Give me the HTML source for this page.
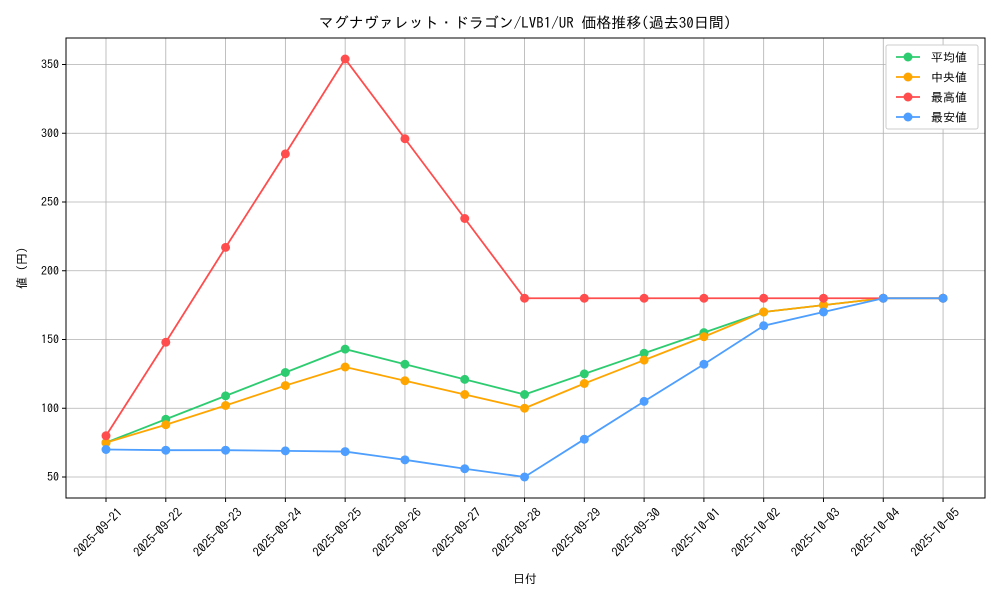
<!DOCTYPE html>
<html><head><meta charset="utf-8">
<style>
html,body{margin:0;padding:0;background:#fff;}
svg{display:block;font-family:"IPAGothic","Noto Sans CJK JP",monospace;}
</style></head>
<body>
<svg id="s" width="1000" height="600" xmlns="http://www.w3.org/2000/svg">
<rect width="1000" height="600" fill="#fff"/>
<g id="grid"></g>
<rect x="66" y="38" width="919" height="460" fill="none" stroke="#000" stroke-width="1"/>
<g id="ticks"></g>
<g id="series"></g>
<text x="525" y="28" font-size="15" text-anchor="middle">マグナヴァレット・ドラゴン/LVB1/UR 価格推移(過去30日間)</text>
<text x="525" y="583" font-size="12" text-anchor="middle">日付</text>
<text transform="translate(26,268) rotate(-90)" font-size="12" text-anchor="middle">値 (円)</text>
<g id="legend">
<rect x="886" y="45" width="92" height="84" fill="#fff" stroke="#ccc" rx="2"/>
</g>
</svg>
<script>
const NS="http://www.w3.org/2000/svg";
function el(p,t,a,txt){const e=document.createElementNS(NS,t);for(const k in a)e.setAttribute(k,a[k]);if(txt!==undefined)e.textContent=txt;document.getElementById(p).appendChild(e);return e;}
const X=i=>106+i*59.79, Y=v=>477-(v-50)*1.375;
const dates=["2025-09-21","2025-09-22","2025-09-23","2025-09-24","2025-09-25","2025-09-26","2025-09-27","2025-09-28","2025-09-29","2025-09-30","2025-10-01","2025-10-02","2025-10-03","2025-10-04","2025-10-05"];
dates.forEach((d,i)=>{const x=X(i);
el("grid","line",{x1:x,x2:x,y1:38,y2:498,stroke:"#b0b0b0","stroke-width":0.8});
el("ticks","line",{x1:x,x2:x,y1:498,y2:502,stroke:"#000"});
el("ticks","text",{transform:`translate(${x+11},${507}) rotate(-45)`,"font-size":12.5,"text-anchor":"end","dominant-baseline":"hanging"},d);
});
[50,100,150,200,250,300,350].forEach(v=>{const y=Y(v);
el("grid","line",{x1:66,x2:985,y1:y,y2:y,stroke:"#b0b0b0","stroke-width":0.8});
el("ticks","line",{x1:62,x2:66,y1:y,y2:y,stroke:"#000"});
el("ticks","text",{x:59,y:y+4,"font-size":12,"text-anchor":"end"},v);
});
const S=[
["平均値","#2ecc71",[75,92,109,126,143,132,121,110,125,140,155,170,175,180,180]],
["中央値","#ffa500",[75,88,102,116.5,130,120,110,100,118,135,152,170,175,180,180]],
["最高値","#ff4d4d",[80,148,217,285,354,296,238,180,180,180,180,180,180,180,180]],
["最安値","#4d9eff",[70,69.5,69.5,69,68.5,62.5,56,50,77.5,105,132,160,170,180,180]]];
S.forEach(([n,c,d],k)=>{
el("series","polyline",{points:d.map((v,i)=>X(i)+","+Y(v)).join(" "),fill:"none",stroke:c,"stroke-width":1.8});
d.forEach((v,i)=>el("series","circle",{cx:X(i),cy:Y(v),r:4.5,fill:c}));
const ly=57+k*20;
el("legend","line",{x1:896,x2:920,y1:ly,y2:ly,stroke:c,"stroke-width":1.8});
el("legend","circle",{cx:908,cy:ly,r:4.5,fill:c});
el("legend","text",{x:931,y:ly+4.5,"font-size":12},n);
});
</script>
</body></html>
